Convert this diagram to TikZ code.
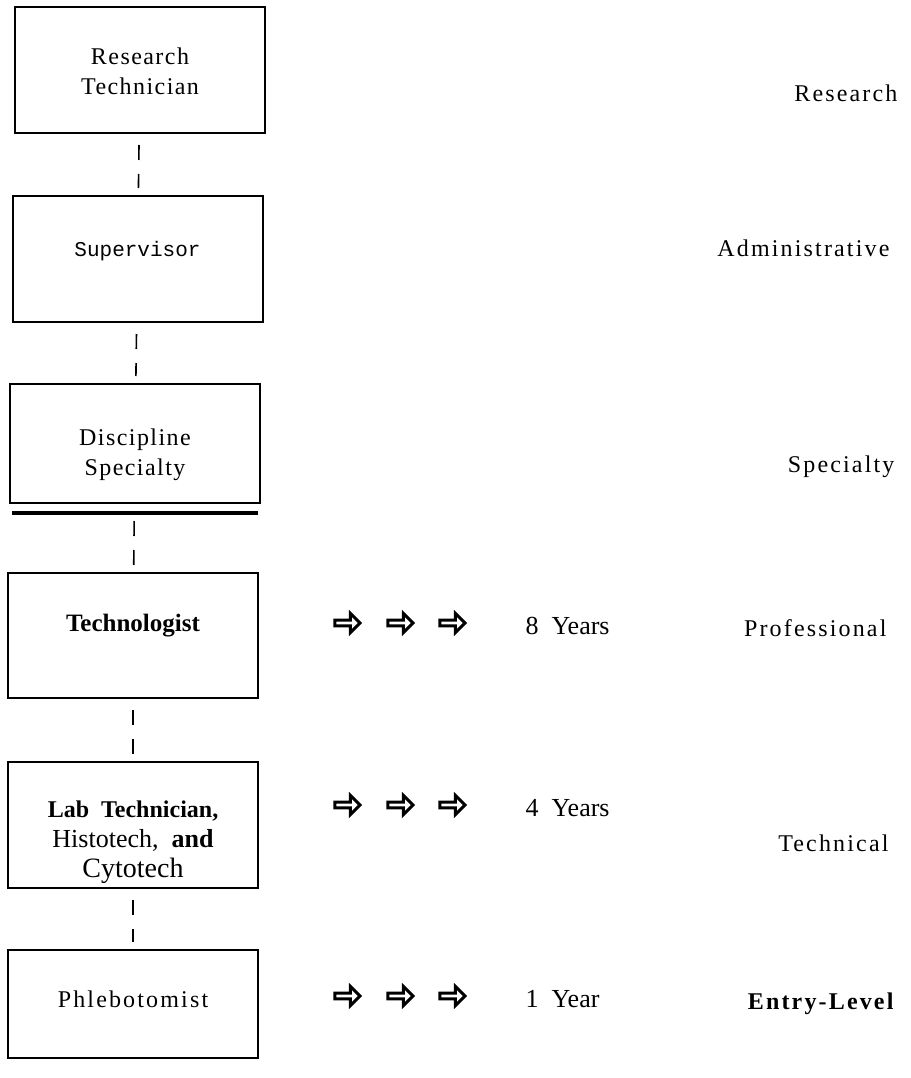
\documentclass[tikz,border=0pt]{standalone}
\usepackage{fontspec}
\setmainfont{Liberation Serif}
\setmonofont{Liberation Mono}
\newfontfamily\trackedfont[LetterSpace=9]{Liberation Serif}
\newfontfamily\boxfont[LetterSpace=6]{Liberation Serif}
\usetikzlibrary{shapes.arrows}

\begin{document}
\begin{tikzpicture}[
    x=1pt, y=-1pt,
    box/.style={draw, line width=2pt, inner sep=0pt, minimum width=250pt, minimum height=126pt, font=\boxfont\fontsize{24}{30}\selectfont},
    link/.style={line width=1.6pt, dash pattern=on 15pt off 14pt, shorten <=11pt, shorten >=7pt},
    pointer/.style={single arrow, draw, line width=3pt, inner sep=0pt, minimum width=19pt, minimum height=25pt, single arrow head extend=3.5pt},
    years/.style={anchor=base west, font=\fontsize{26}{30}\selectfont},
    level/.style={anchor=base east, font=\trackedfont\fontsize{24}{30}\selectfont},
  ]
    \useasboundingbox (0,0) rectangle (910,1078);
    % Career ladder, top to bottom
    \node[box, align=center] (rt) at (140,70) {\rule{0pt}{20pt}Research\\Technician};
    \node[box, text depth=20pt, font=\ttfamily\fontsize{21}{25}\selectfont] (sup) at (137.5,259) {Supervisor};
    \node[box, minimum height=119pt, align=center] (ds) at (135,443.5) {\rule{0pt}{40pt}Discipline\\Specialty};
    \node[box, minimum height=125pt, text depth=26pt, font=\bfseries\fontsize{25}{30}\selectfont] (tech) at (133,635.5) {Technologist};
    \node[box, align=center, font=\fontsize{24}{30}\selectfont] (lab) at (133,825)
      {\rule{0pt}{52pt}\textbf{Lab~~Technician,}\\{\fontsize{26}{30}\selectfont Histotech,~~\textbf{and}}\\{\fontsize{28}{30}\selectfont Cytotech}};
    \node[box, minimum height=108pt, text depth=10pt, font=\trackedfont\fontsize{24}{30}\selectfont] (phl) at (133,1004) {Phlebotomist};
    % heavy rule under the specialty box
    \draw[line width=3.2pt] ([xshift=3pt,yshift=-9pt]ds.south west) -- ([xshift=-3pt,yshift=-9pt]ds.south east);
    % broken links between the steps
    \draw[link] (rt) -- (sup);
    \draw[link] (sup) -- (ds);
    \draw[link, shorten <=17pt] (ds) -- (tech);
    \draw[link] (tech) -- (lab);
    \draw[link] (lab) -- (phl);
    % Arrows and years of schooling
    \foreach \y/\yrs/\row in {623/8~~Years/a, 805/4~~Years/b, 996/1~~Year/c} {
      \foreach \x [count=\i] in {346,399,451} {
        \node[pointer] (arr\row\i) at (\x,\y) {};
      }
      \node[years] (yrs\row) at (522,\y+11) {\yrs};
    }
    % Level names, right column
    \foreach \x/\y/\lvl/\nm in {901/102/Research/research, 893/256/Administrative/admin,
        898/472/Specialty/spec, 890/636/Professional/prof, 892/851/Technical/techn,
        897/1009/{\bfseries Entry-Level}/entry} {
      \node[level] (\nm) at (\x,\y) {\lvl};
    }
\end{tikzpicture}
\end{document}
